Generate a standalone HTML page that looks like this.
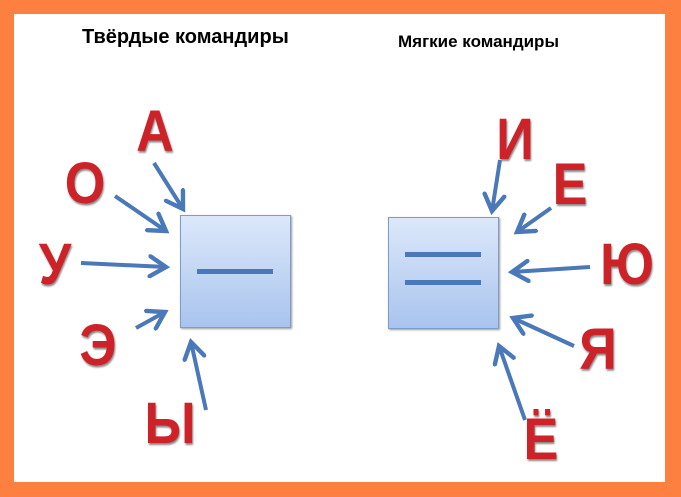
<!DOCTYPE html>
<html><head><meta charset="utf-8"><style>
body{margin:0;width:681px;height:497px;background:#fd8040;position:relative;overflow:hidden;font-family:"Liberation Sans",sans-serif}
#w{position:absolute;left:14px;top:14px;width:651px;height:468px;background:#fff}
.t{position:absolute;font-weight:bold;color:#000;white-space:nowrap}
.L{position:absolute;font-weight:bold;color:#cc2228;font-size:58px;line-height:1;text-shadow:1px 2px 2px #888;transform:translate(-50%,-50%) scaleX(0.9)}
.b{position:absolute;background:linear-gradient(#dce8fa,#a9c4ee);border:1px solid #7f9cc8;box-shadow:1px 1px 2px #999}
.ln{position:absolute;height:5px;background:#4a78b8}
</style></head><body>
<div id="w"></div>
<div class="t" style="left:82px;top:26px;font-size:20px">Твёрдые командиры</div>
<div class="t" style="left:398px;top:32px;font-size:17px">Мягкие командиры</div>
<div class="b" style="left:180px;top:215px;width:109px;height:111px"></div>
<div class="ln" style="left:197px;top:269px;width:76px"></div>
<div class="b" style="left:388px;top:217px;width:109px;height:110px"></div>
<div class="ln" style="left:405px;top:252px;width:76px"></div>
<div class="ln" style="left:405px;top:280px;width:76px"></div>
<div class="L" style="left:155px;top:132px">А</div>
<div class="L" style="left:85px;top:184px">О</div>
<div class="L" style="left:55px;top:265px">У</div>
<div class="L" style="left:98px;top:346px">Э</div>
<div class="L" style="left:170px;top:424px">Ы</div>
<div class="L" style="left:515px;top:140px">И</div>
<div class="L" style="left:570px;top:185px">Е</div>
<div class="L" style="left:627px;top:265px">Ю</div>
<div class="L" style="left:598px;top:350px">Я</div>
<div class="L" style="left:541px;top:440px">Ё</div>
<svg width="681" height="497" style="position:absolute;left:0;top:0">
<defs><marker id="a" markerWidth="6" markerHeight="6" refX="4.5" refY="3" orient="auto" markerUnits="strokeWidth"><path d="M0.5,0.5 L4.5,3 L0.5,5.5" fill="none" stroke="#4a78b8" stroke-width="1.1" stroke-linecap="round"/></marker></defs>
<g stroke="#4a78b8" stroke-width="4" marker-end="url(#a)" fill="none">
<line x1="154" y1="163" x2="183" y2="209"/>
<line x1="115" y1="196" x2="166" y2="231"/>
<line x1="81" y1="263" x2="166" y2="267"/>
<line x1="136" y1="328" x2="165" y2="312"/>
<line x1="206" y1="410" x2="191" y2="342"/>
<line x1="500" y1="160" x2="492" y2="211"/>
<line x1="551" y1="208" x2="517" y2="232"/>
<line x1="590" y1="267" x2="512" y2="272"/>
<line x1="574" y1="346" x2="513" y2="318"/>
<line x1="525" y1="420" x2="499" y2="346"/>
</g></svg>
</body></html>
